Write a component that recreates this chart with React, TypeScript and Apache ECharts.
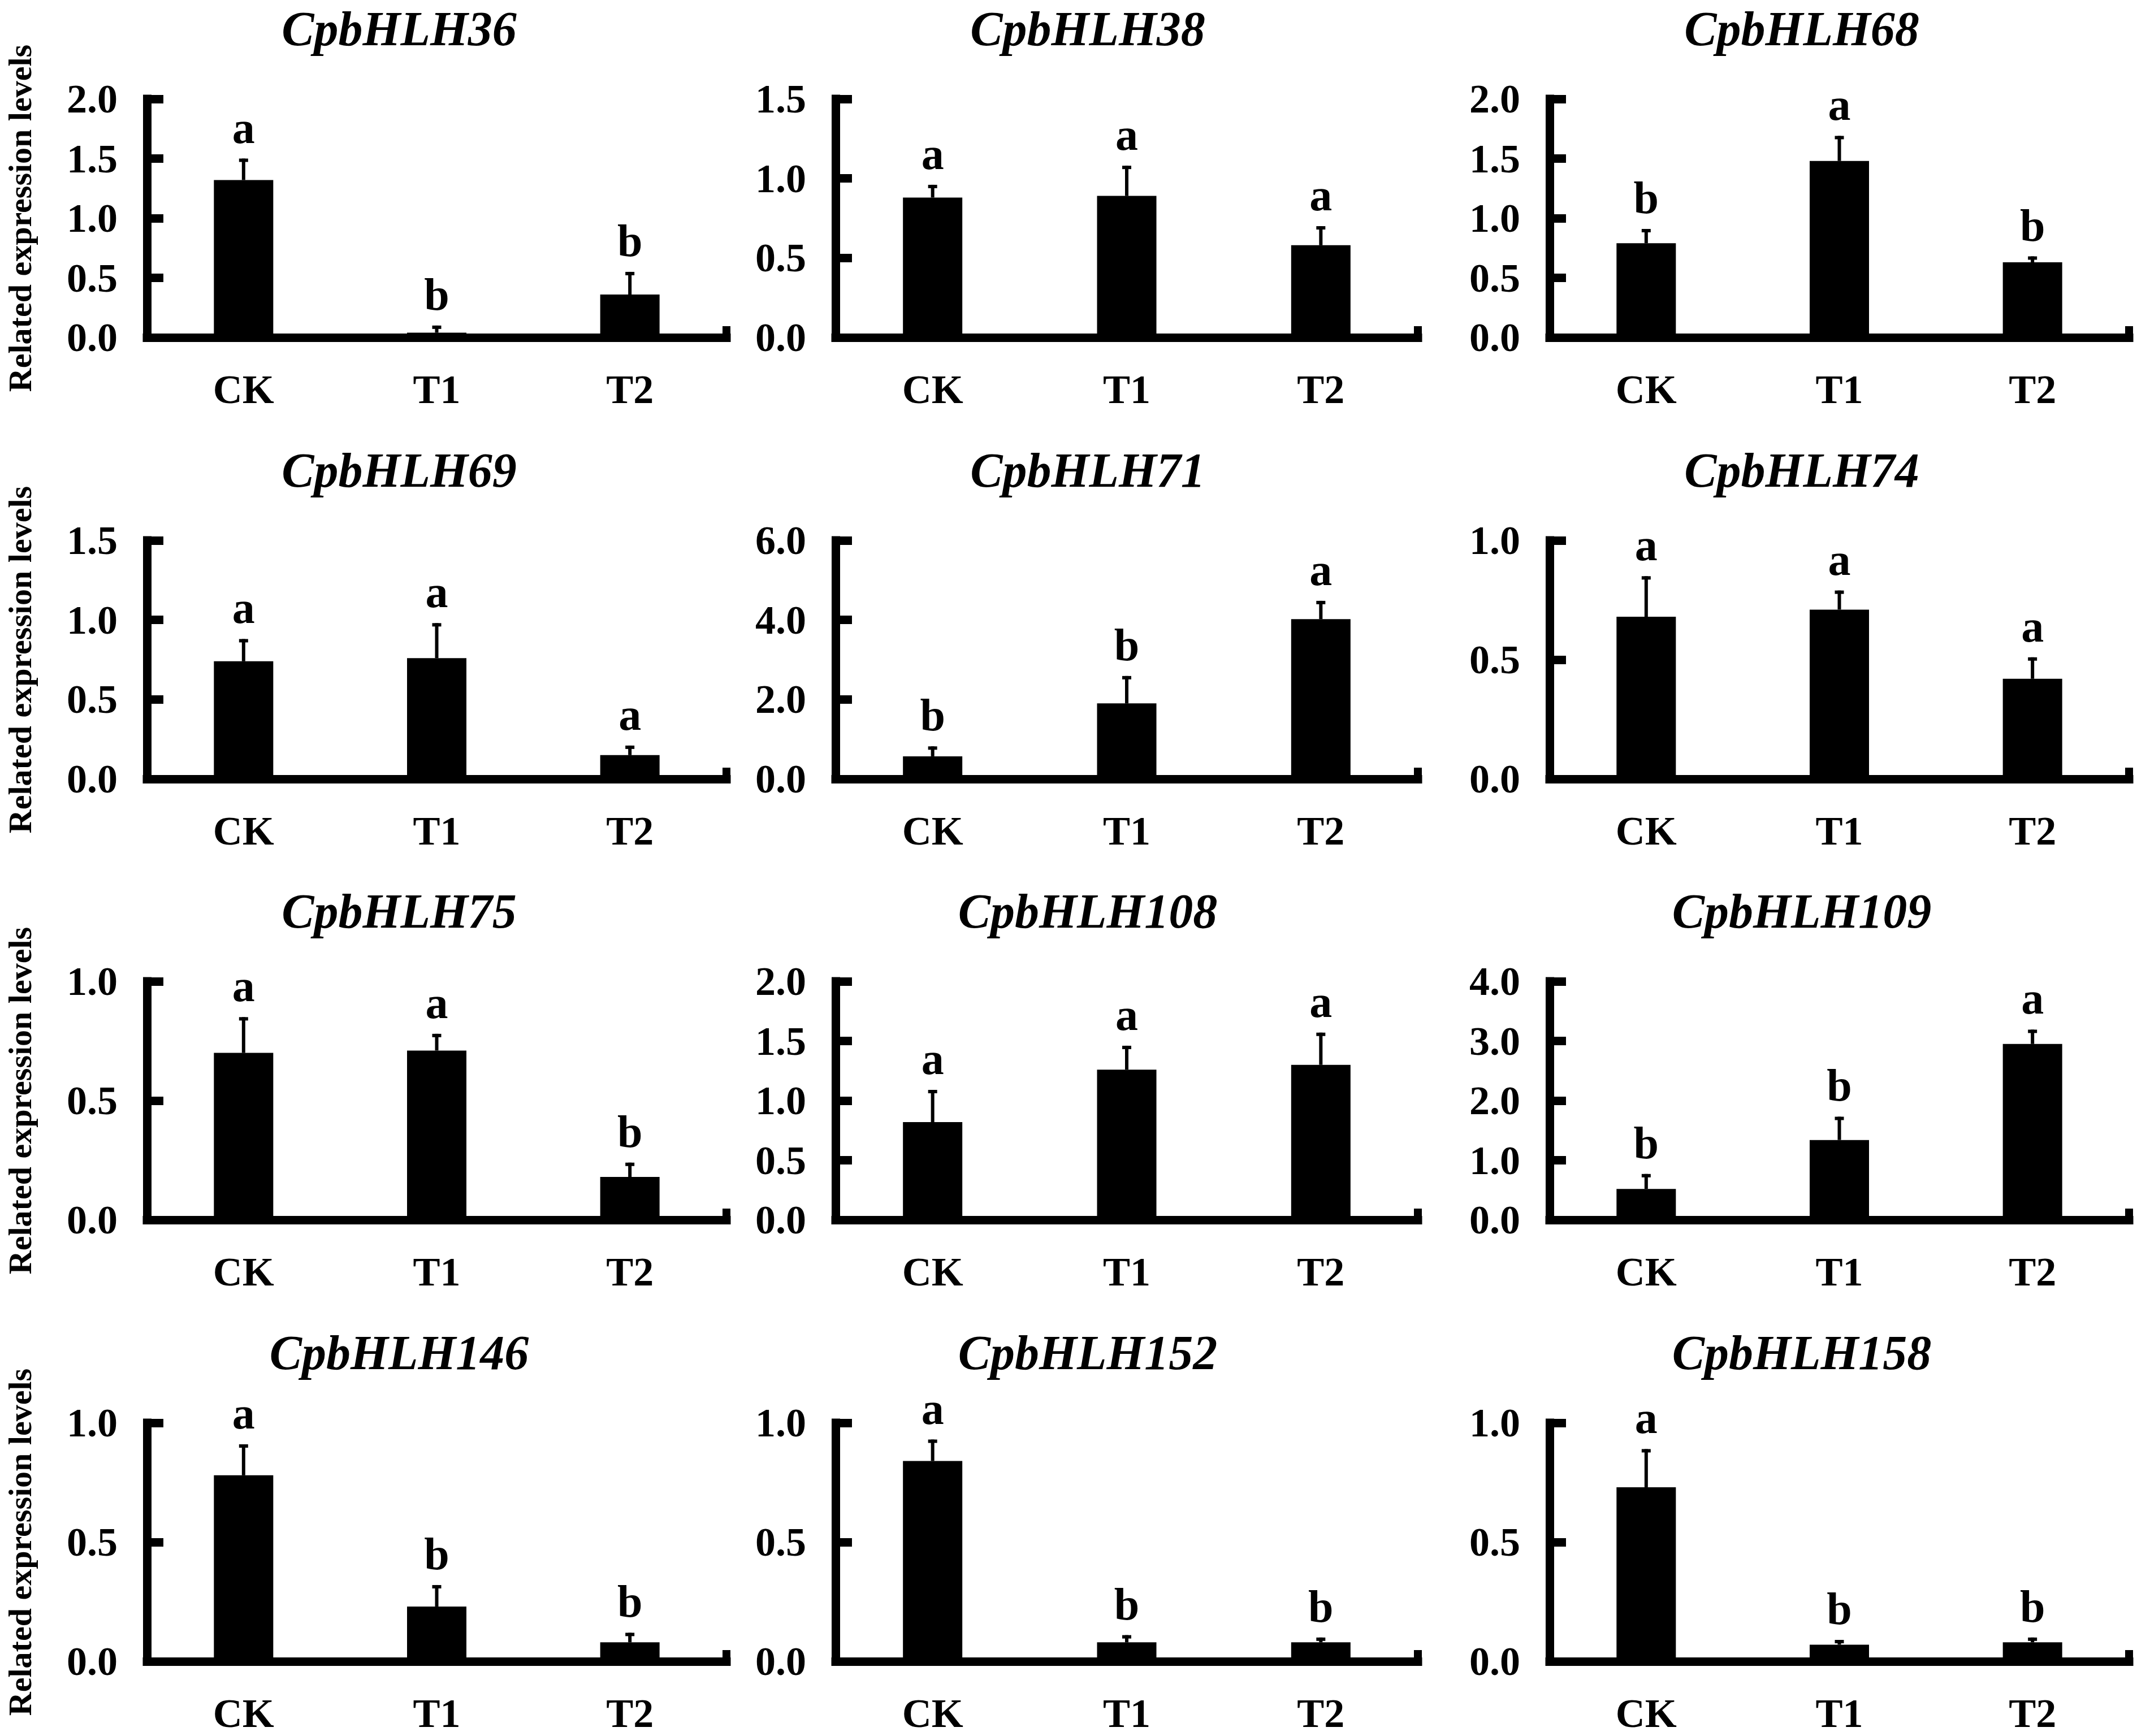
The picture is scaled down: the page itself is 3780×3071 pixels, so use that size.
import React, { useEffect, useRef } from "react";
import * as echarts from "echarts";

const treatments = ["CK", "T1", "T2"];
const genes = [
  "CpbHLH36", "CpbHLH38", "CpbHLH68",
  "CpbHLH69", "CpbHLH71", "CpbHLH74",
  "CpbHLH75", "CpbHLH108", "CpbHLH109",
  "CpbHLH146", "CpbHLH152", "CpbHLH158",
];
const means = [
  [1.32, 0.04, 0.36],
  [0.88, 0.89, 0.58],
  [0.79, 1.48, 0.63],
  [0.74, 0.76, 0.15],
  [0.57, 1.9, 4.02],
  [0.68, 0.71, 0.42],
  [0.7, 0.71, 0.18],
  [0.82, 1.26, 1.3],
  [0.52, 1.34, 2.95],
  [0.78, 0.23, 0.08],
  [0.84, 0.08, 0.08],
  [0.73, 0.07, 0.08],
];
const sds = [
  [0.18, 0.06, 0.19],
  [0.08, 0.19, 0.12],
  [0.12, 0.21, 0.05],
  [0.14, 0.22, 0.06],
  [0.25, 0.69, 0.46],
  [0.17, 0.08, 0.09],
  [0.15, 0.07, 0.06],
  [0.27, 0.2, 0.27],
  [0.25, 0.39, 0.24],
  [0.13, 0.09, 0.04],
  [0.09, 0.03, 0.02],
  [0.16, 0.02, 0.02],
];
const letters = [
  ["a", "b", "b"],
  ["a", "a", "a"],
  ["b", "a", "b"],
  ["a", "a", "a"],
  ["b", "b", "a"],
  ["a", "a", "a"],
  ["a", "a", "b"],
  ["a", "a", "a"],
  ["b", "b", "a"],
  ["a", "b", "b"],
  ["a", "b", "b"],
  ["a", "b", "b"],
];
const yMax = [2, 1.5, 2, 1.5, 6, 1, 1, 2, 4, 1, 1, 1];
const yStep = [0.5, 0.5, 0.5, 0.5, 2, 0.5, 0.5, 0.5, 1, 0.5, 0.5, 0.5];
const yAxisTitle = "Related expression levels";

const FONT = '"Liberation Serif", "Times New Roman", serif';
const colLeft = [260, 1478, 2741];
const colWidth = [1025, 1030, 1025];
const rowTop = [175, 956, 1736, 2517];
const plotH = 422;

function buildOption() {
  const grid: any[] = [];
  const xAxis: any[] = [];
  const yAxis: any[] = [];
  const series: any[] = [];
  const title: any[] = [];
  genes.forEach((g, i) => {
    const r = Math.floor(i / 3);
    const c = i % 3;
    grid.push({
      left: colLeft[c],
      top: rowTop[r],
      width: colWidth[c],
      height: plotH,
      containLabel: false,
      outerBoundsMode: "none",
    });
    title.push({
      text: g,
      left: colLeft[c] + 441,
      top: rowTop[r] - 172,
      textAlign: "center",
      textStyle: {
        fontFamily: FONT,
        fontSize: 86,
        fontWeight: "bold",
        fontStyle: "italic",
        color: "#000",
      },
    });
    xAxis.push({
      type: "category",
      gridIndex: i,
      data: treatments,
      boundaryGap: true,
      axisLine: { show: true, lineStyle: { color: "#000", width: 15, cap: "square" } },
      axisTick: {
        show: true,
        inside: true,
        length: 20,
        interval: (idx: number) => idx === 0,
        lineStyle: { color: "#000", width: 14 },
      },
      axisLabel: {
        margin: 56,
        fontFamily: FONT,
        fontSize: 72,
        fontWeight: "bold",
        color: "#000",
      },
      splitLine: { show: false },
    });
    yAxis.push({
      type: "value",
      gridIndex: i,
      min: 0,
      max: yMax[i],
      interval: yStep[i],
      name: c === 0 ? yAxisTitle : "",
      nameLocation: "middle",
      nameGap: 196,
      nameTextStyle: {
        fontFamily: FONT,
        fontSize: 58,
        fontWeight: "bold",
        color: "#000",
      },
      axisLine: { show: true, lineStyle: { color: "#000", width: 15, cap: "square" } },
      axisTick: { show: true, inside: true, length: 29, lineStyle: { color: "#000", width: 15 } },
      axisLabel: {
        margin: 52,
        fontFamily: FONT,
        fontSize: 72,
        fontWeight: "bold",
        color: "#000",
        formatter: (v: number) => v.toFixed(1),
      },
      splitLine: { show: false },
    });
    series.push({
      type: "bar",
      xAxisIndex: i,
      yAxisIndex: i,
      barWidth: 105,
      itemStyle: { color: "#000" },
      data: means[i],
      z: 2,
    });
    const lt = letters[i];
    series.push({
      type: "custom",
      xAxisIndex: i,
      yAxisIndex: i,
      z: 3,
      clip: false,
      data: means[i].map((m, j) => [j, m, sds[i][j]]),
      encode: { x: 0, y: 1 },
      renderItem: (params: any, api: any) => {
        const j = api.value(0);
        const m = api.value(1);
        const s = api.value(2);
        const p0 = api.coord([j, m]);
        const p1 = api.coord([j, m + s]);
        return {
          type: "group",
          children: [
            {
              type: "line",
              shape: { x1: p0[0], y1: p0[1], x2: p1[0], y2: p1[1] },
              style: { stroke: "#000", lineWidth: 6 },
            },
            {
              type: "line",
              shape: { x1: p1[0] - 8, y1: p1[1] + 3, x2: p1[0] + 8, y2: p1[1] + 3 },
              style: { stroke: "#000", lineWidth: 6 },
            },
            {
              type: "text",
              style: {
                text: lt[j],
                x: p1[0],
                y: p1[1] - 15,
                align: "center",
                verticalAlign: "bottom",
                textAlign: "center",
                textVerticalAlign: "bottom",
                fontFamily: FONT,
                fontSize: 80,
                fontWeight: "bold",
                fill: "#000",
              },
            },
          ],
        };
      },
    });
  });
  return {
    animation: false,
    backgroundColor: "#fff",
    title,
    grid,
    xAxis,
    yAxis,
    series,
  };
}

export default function App() {
  const ref = useRef<HTMLDivElement>(null);
  useEffect(() => {
    document.body.style.margin = "0";
    if (!ref.current) return;
    const chart = echarts.init(ref.current, null, { renderer: "svg" });
    chart.setOption(buildOption() as any);
    return () => chart.dispose();
  }, []);
  return (
    <div
      ref={ref}
      style={{ position: "absolute", left: 0, top: 0, width: 3780, height: 3071, background: "#fff" }}
    />
  );
}
